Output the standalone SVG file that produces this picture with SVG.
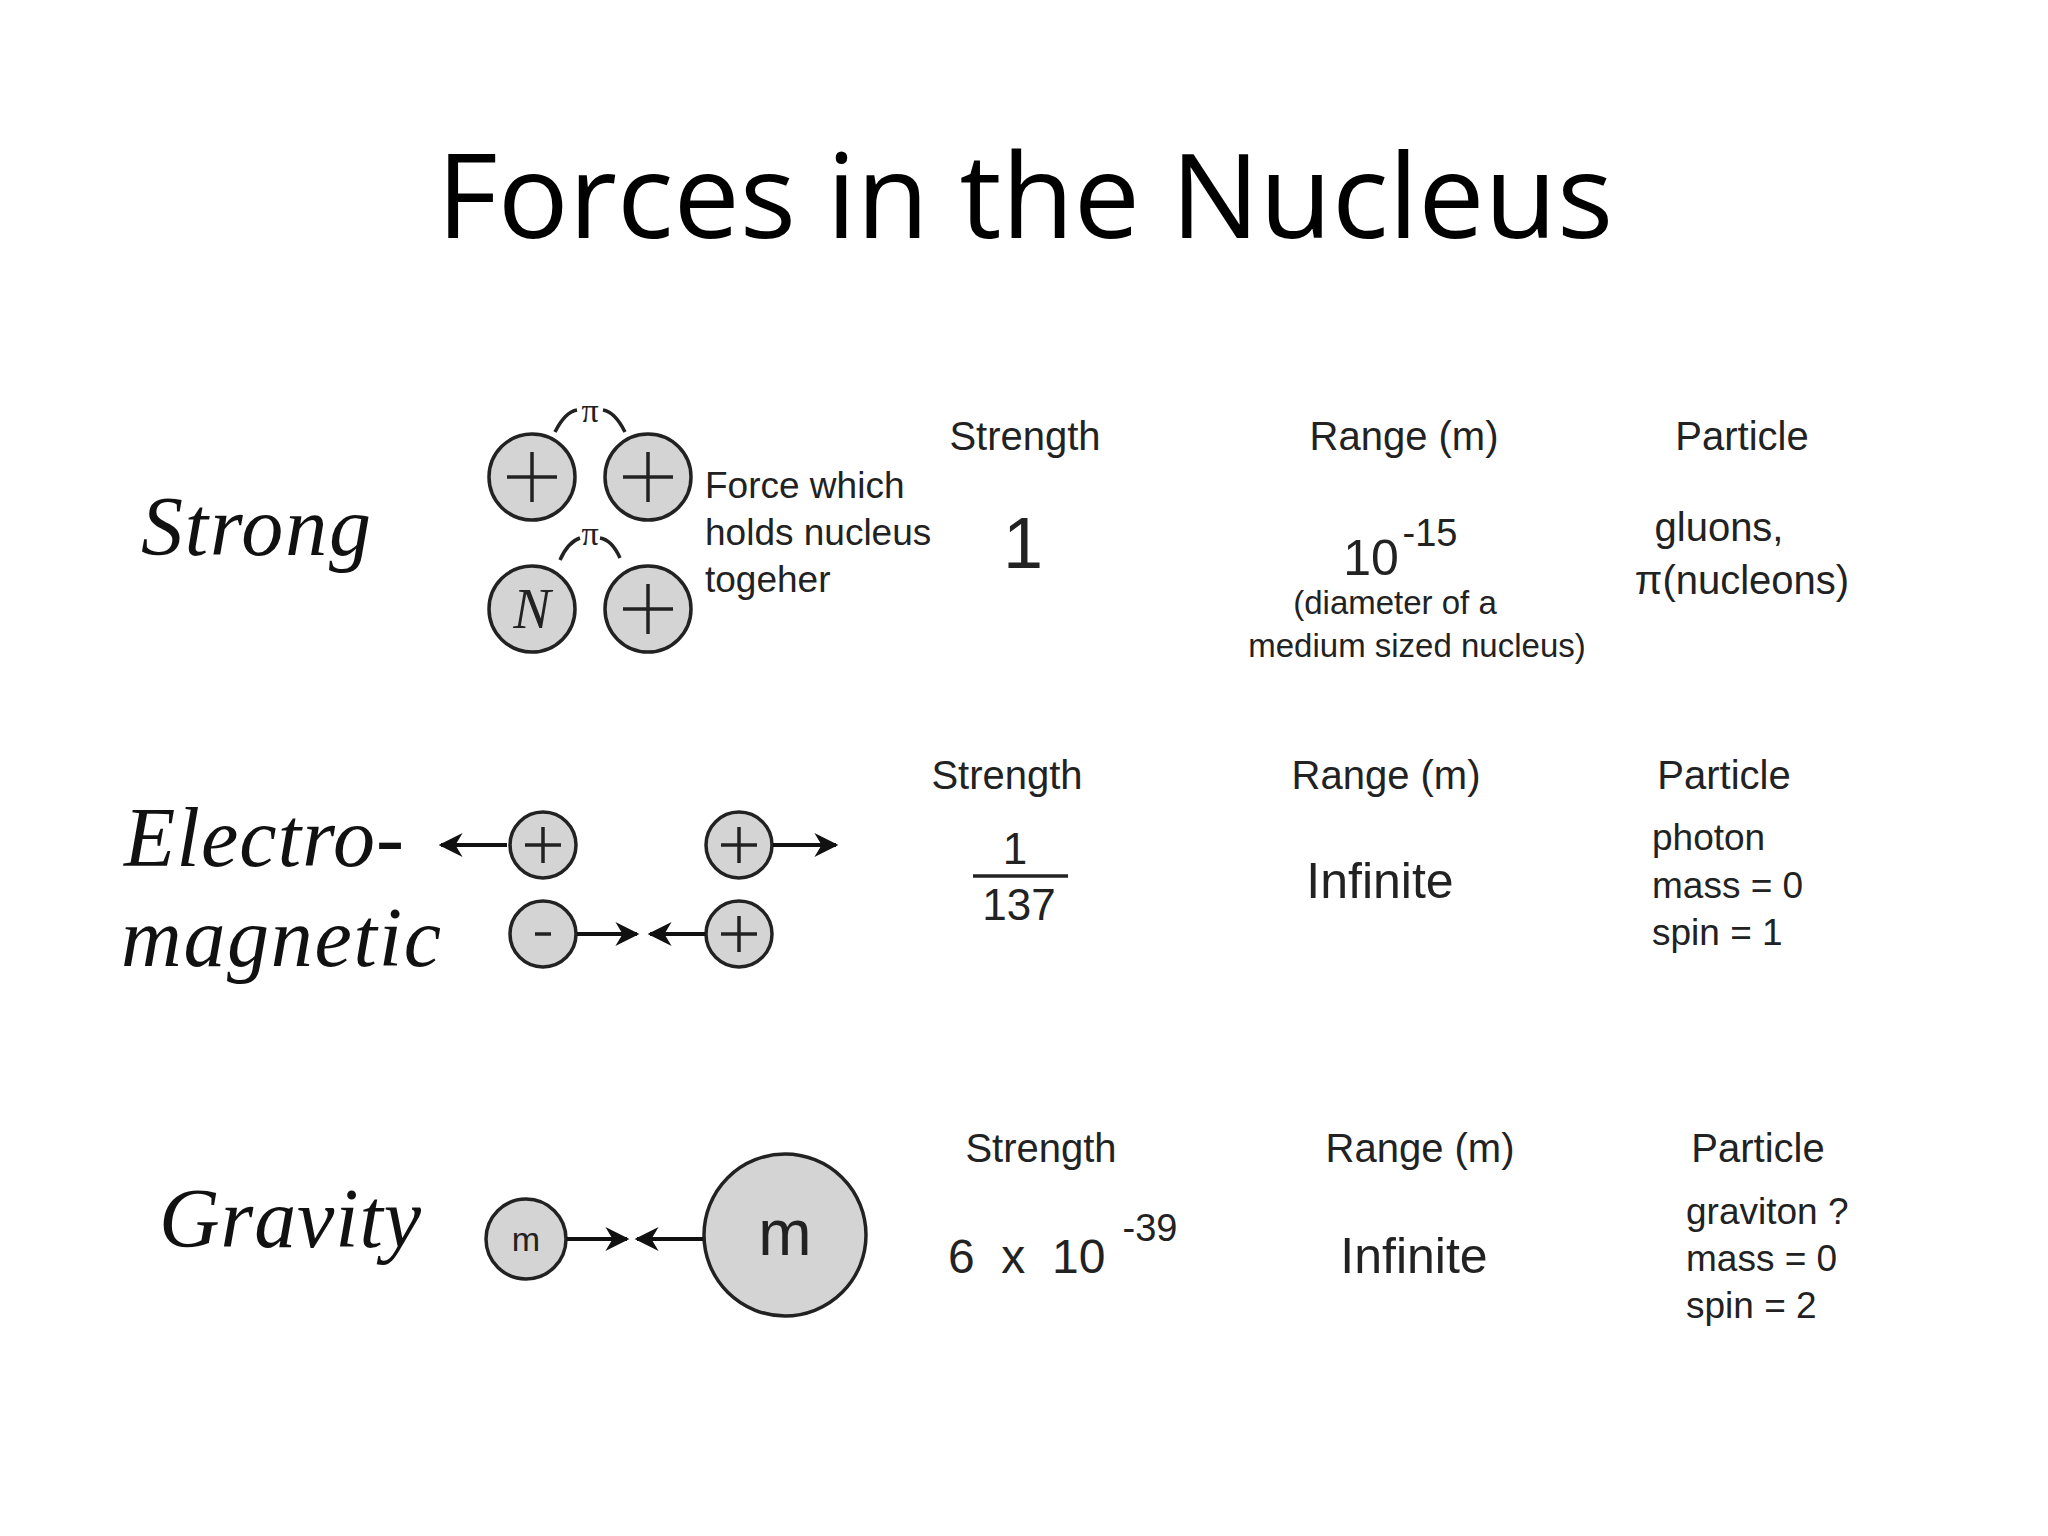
<svg xmlns="http://www.w3.org/2000/svg" width="2048" height="1536" viewBox="0 0 2048 1536">
<defs>
<style>
.t{font-family:"Liberation Sans",Arial,sans-serif;fill:#222}
.h{font-size:40px;text-anchor:middle}
.lbl{font-family:"Liberation Serif","Times New Roman",serif;font-style:italic;font-size:84px;fill:#111}
.c{fill:#d4d4d4;stroke:#222;stroke-width:3.5}
.s{stroke:#222;stroke-width:3.5;fill:none}
.a{stroke:#111;stroke-width:4;fill:none;marker-end:url(#ah)}
</style>
<marker id="ah" viewBox="0 0 10 10" refX="9" refY="5" markerWidth="7" markerHeight="6" orient="auto"><path d="M0,0L10,5L0,10L3,5z" fill="#111"/></marker>
</defs>
<rect width="2048" height="1536" fill="#fff"/>
<text x="1025" y="238" font-family="'Open Sans','Noto Sans',sans-serif" font-size="118" text-anchor="middle" fill="#000">Forces in the Nucleus</text>

<g id="strong">
<text class="lbl" x="141" y="555" textLength="230">Strong</text>
<circle class="c" cx="532" cy="477" r="43"/><path class="s" d="M507,477h50M532,452v50"/>
<circle class="c" cx="648" cy="477" r="43"/><path class="s" d="M623,477h50M648,452v50"/>
<circle class="c" cx="532" cy="609" r="43"/><text x="532" y="628" font-family="'Liberation Serif',serif" font-style="italic" font-size="56" text-anchor="middle" fill="#222">N</text>
<circle class="c" cx="648" cy="609" r="43"/><path class="s" d="M623,609h50M648,584v50"/>
<text x="590" y="422" font-family="'Liberation Serif',serif" font-size="34" text-anchor="middle" fill="#222">π</text>
<text x="590" y="545" font-family="'Liberation Serif',serif" font-size="34" text-anchor="middle" fill="#222">π</text>
<path class="s" stroke-width="2.5" d="M555,432q10,-20 22,-22M603,410q12,2 22,22M560,560q8,-18 20,-22M600,538q12,2 20,20"/>
<text class="t" font-size="37" x="705" y="498">Force which</text>
<text class="t" font-size="37" x="705" y="545">holds nucleus</text>
<text class="t" font-size="37" x="705" y="592">togeher</text>
<text class="t h" x="1025" y="450">Strength</text>
<text class="t" x="1023" y="568" font-size="72" text-anchor="middle">1</text>
<text class="t h" x="1404" y="450">Range (m)</text>
<text class="t" x="1371" y="575" font-size="50" text-anchor="middle">10</text>
<text class="t" x="1430" y="546" font-size="38" text-anchor="middle">-15</text>
<text class="t" x="1395" y="614" font-size="33" text-anchor="middle">(diameter of a</text>
<text class="t" x="1417" y="657" font-size="33" text-anchor="middle">medium sized nucleus)</text>
<text class="t h" x="1742" y="450">Particle</text>
<text class="t" x="1719" y="541" font-size="40" text-anchor="middle">gluons,</text>
<text class="t" x="1742" y="594" font-size="40" text-anchor="middle">π(nucleons)</text>
</g>

<g id="em">
<text class="lbl" x="124" y="866" textLength="280">Electro-</text>
<text class="lbl" x="121" y="966" textLength="320">magnetic</text>
<circle class="c" cx="543" cy="845" r="33"/><path class="s" d="M525,845h36M543,827v36"/>
<circle class="c" cx="739" cy="845" r="33"/><path class="s" d="M721,845h36M739,827v36"/>
<circle class="c" cx="543" cy="934" r="33"/><path class="s" d="M535,934h16"/>
<circle class="c" cx="739" cy="934" r="33"/><path class="s" d="M721,934h36M739,916v36"/>
<text class="t h" x="1007" y="789">Strength</text>
<text class="t" x="1015" y="864" font-size="44" text-anchor="middle">1</text>
<path class="s" d="M973,876h95"/>
<text class="t" x="1019" y="920" font-size="44" text-anchor="middle">137</text>
<text class="t h" x="1386" y="789">Range (m)</text>
<text class="t" x="1380" y="898" font-size="50" text-anchor="middle">Infinite</text>
<text class="t h" x="1724" y="789">Particle</text>
<text class="t" font-size="37" x="1652" y="850">photon</text>
<text class="t" font-size="37" x="1652" y="898">mass = 0</text>
<text class="t" font-size="37" x="1652" y="945">spin = 1</text>
</g>

<g id="gravity">
<text class="lbl" x="159" y="1247" textLength="262">Gravity</text>
<circle class="c" cx="526" cy="1239" r="40"/><text class="t" x="526" y="1251" font-size="34" text-anchor="middle">m</text>
<circle class="c" cx="785" cy="1235" r="81"/><text class="t" x="785" y="1255" font-size="64" text-anchor="middle">m</text>
<text class="t h" x="1041" y="1162">Strength</text>
<text class="t" x="948" y="1273" font-size="48" xml:space="preserve">6  x  10</text>
<text class="t" x="1150" y="1241" font-size="38" text-anchor="middle">-39</text>
<text class="t h" x="1420" y="1162">Range (m)</text>
<text class="t" x="1414" y="1273" font-size="50" text-anchor="middle">Infinite</text>
<text class="t h" x="1758" y="1162">Particle</text>
<text class="t" font-size="37" x="1686" y="1224">graviton ?</text>
<text class="t" font-size="37" x="1686" y="1271">mass = 0</text>
<text class="t" font-size="37" x="1686" y="1318">spin = 2</text>
</g>

<g id="connectors">
<path class="a" d="M507,845H441"/>
<path class="a" d="M773,845H836"/>
<path class="a" d="M577,934H637"/>
<path class="a" d="M705,934H650"/>
<path class="a" d="M567,1239H627"/>
<path class="a" d="M703,1239H637"/>
</g>
</svg>
